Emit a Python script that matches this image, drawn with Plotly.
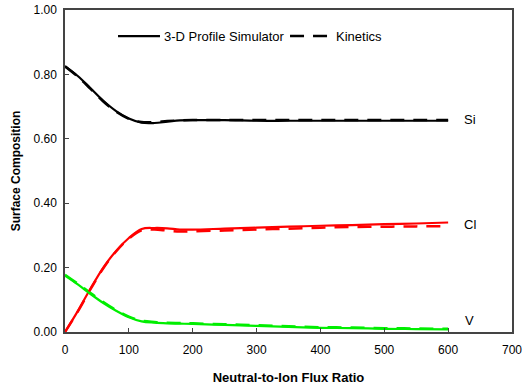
import plotly.graph_objects as go

x_sim = [0, 20, 40, 60, 80, 100, 120, 140, 160, 180, 200, 250, 300, 350, 400, 450, 500, 550, 600]
si_sim = [0.825, 0.795, 0.757, 0.718, 0.686, 0.663, 0.650, 0.649, 0.653, 0.657, 0.658, 0.658, 0.656, 0.656, 0.656, 0.656, 0.656, 0.656, 0.656]
cl_sim = [0.0, 0.065, 0.135, 0.200, 0.252, 0.292, 0.320, 0.323, 0.322, 0.318, 0.318, 0.321, 0.324, 0.327, 0.330, 0.332, 0.335, 0.337, 0.340]
v_sim = [0.175, 0.148, 0.118, 0.090, 0.066, 0.046, 0.033, 0.029, 0.027, 0.026, 0.025, 0.022, 0.019, 0.016, 0.013, 0.012, 0.010, 0.009, 0.008]

x_kin = [0, 20, 40, 60, 80, 100, 120, 140, 160, 180, 200, 250, 300, 350, 400, 450, 500, 550, 600]
si_kin = [0.825, 0.793, 0.755, 0.716, 0.684, 0.662, 0.652, 0.652, 0.655, 0.657, 0.658, 0.658, 0.658, 0.658, 0.658, 0.658, 0.658, 0.658, 0.658]
cl_kin = [0.0, 0.063, 0.133, 0.198, 0.250, 0.290, 0.316, 0.318, 0.315, 0.312, 0.313, 0.315, 0.318, 0.321, 0.324, 0.326, 0.327, 0.328, 0.328]
v_kin = [0.178, 0.150, 0.121, 0.093, 0.068, 0.048, 0.035, 0.031, 0.029, 0.028, 0.027, 0.024, 0.021, 0.018, 0.015, 0.014, 0.012, 0.011, 0.010]

labels = ["Si", "Cl", "V"]
label_y = [0.66, 0.335, 0.035]
label_x = 634
colors = ["black", "#ff0000", "#00ee00"]
legend_names = ["3-D Profile Simulator", "Kinetics"]

FONT = "Liberation Sans, Arial"

fig = go.Figure()
dash_pat = "14px,9px"
for yk, c in zip([si_kin, cl_kin, v_kin], colors):
    fig.add_trace(go.Scatter(x=x_kin, y=yk, mode="lines", line=dict(color=c, width=2.5, dash=dash_pat, shape="spline"), showlegend=False))
for ys, c in zip([si_sim, cl_sim, v_sim], colors):
    fig.add_trace(go.Scatter(x=x_sim, y=ys, mode="lines", line=dict(color=c, width=2.2, shape="spline"), showlegend=False))

# Legend drawn as in the original (long line samples)
leg_y = 0.919
fig.add_shape(type="line", xref="paper", yref="paper", x0=0.1186, x1=0.2125, y0=leg_y, y1=leg_y,
              line=dict(color="black", width=2.2))
fig.add_annotation(xref="paper", yref="paper", x=0.2170, y=leg_y, text=legend_names[0], showarrow=False,
                   xanchor="left", yanchor="middle", font=dict(family=FONT, size=13, color="black"))
fig.add_shape(type="line", xref="paper", yref="paper", x0=0.5034, x1=0.5884, y0=leg_y, y1=leg_y,
              line=dict(color="black", width=2.5, dash=dash_pat))
fig.add_annotation(xref="paper", yref="paper", x=0.6020, y=leg_y, text=legend_names[1], showarrow=False,
                   xanchor="left", yanchor="middle", font=dict(family=FONT, size=13, color="black"))

for t, yv in zip(labels, label_y):
    fig.add_annotation(x=label_x, y=yv, text=t, showarrow=False, xanchor="center", yanchor="middle",
                       font=dict(family=FONT, size=13, color="black"))

axis_common = dict(showgrid=False, zeroline=False, showline=True, linecolor="#444444", linewidth=1.5,
                   mirror=True, ticks="inside", ticklen=4, tickcolor="#444444", automargin=False,
                   tickfont=dict(family=FONT, size=12, color="black"))

fig.update_xaxes(range=[0, 700], dtick=100, tick0=0, ticklabelstandoff=6,
                 title=dict(text="<b>Neutral-to-Ion Flux Ratio</b>", font=dict(family=FONT, size=13, color="black"), standoff=17),
                 **axis_common)
fig.update_yaxes(range=[0, 1.0], dtick=0.2, tickformat=".2f", ticklabelstandoff=4,
                 title=dict(text="<b>Surface Composition</b>", font=dict(family=FONT, size=12, color="black"), standoff=10),
                 **axis_common)

fig.update_layout(
    width=529, height=387,
    margin=dict(l=65, r=17, t=10, b=55),
    paper_bgcolor="white", plot_bgcolor="white",
    font=dict(family=FONT, size=12, color="black"),
    showlegend=False,
)

fig.write_html("out.html", config={"displayModeBar": False},
               post_script="document.body.style.margin='0';")
